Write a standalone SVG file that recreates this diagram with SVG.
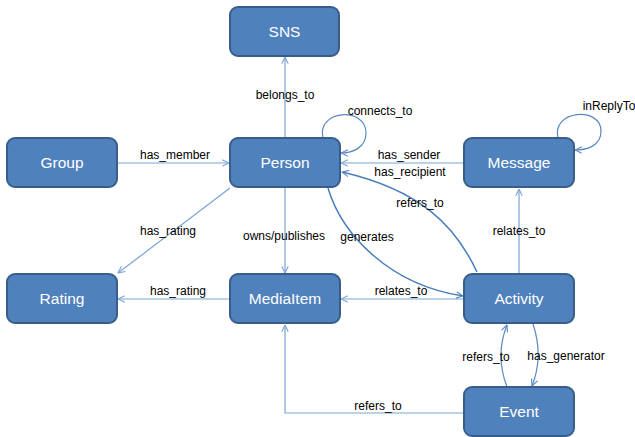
<svg xmlns="http://www.w3.org/2000/svg" width="635" height="437" viewBox="0 0 635 437">
  <style>
    .box { fill: #4F81BD; stroke: #385D8A; stroke-width: 2; }
    .name { font-family: "Liberation Sans", Arial, sans-serif; font-size: 15.5px; fill: #FFFFFF; text-anchor: middle; }
    .lbl { font-family: "Liberation Sans", Arial, sans-serif; font-size: 12px; fill: #000000; text-anchor: middle; }
    .thin { fill: none; stroke: #7BA3D6; stroke-width: 1.2; marker-end: url(#arrLight); }
    .curve { fill: none; stroke: #4A7EBB; stroke-width: 1.5; marker-end: url(#arrDark); }
    .loop { fill: none; stroke: #5A88C2; stroke-width: 1.2; marker-end: url(#arrDark); }
  </style>
  <defs>
    <marker id="arrLight" viewBox="0 0 10 10" refX="9.5" refY="5" markerWidth="8" markerHeight="8" markerUnits="userSpaceOnUse" orient="auto">
      <path d="M1,1 L9.5,5 L1,9" fill="none" stroke="#7BA3D6" stroke-width="1.4"/>
    </marker>
    <marker id="arrDark" viewBox="0 0 10 10" refX="9.5" refY="5" markerWidth="8" markerHeight="8" markerUnits="userSpaceOnUse" orient="auto">
      <path d="M1,1 L9.5,5 L1,9" fill="none" stroke="#5A88C2" stroke-width="1.4"/>
    </marker>
  </defs>

  <rect width="635" height="437" fill="#FFFFFF"/>

  <g id="connectors">
    <!-- belongs_to -->
    <line class="thin" x1="285" y1="138" x2="285" y2="57"/>
    <!-- owns/publishes -->
    <line class="thin" x1="285" y1="188" x2="285" y2="273"/>
    <!-- has_member -->
    <line class="thin" x1="117" y1="163" x2="229" y2="163"/>
    <!-- has_sender / has_recipient -->
    <line class="thin" x1="464" y1="163" x2="341" y2="163"/>
    <!-- has_rating (Person to Rating) -->
    <line class="thin" x1="230" y1="188" x2="118" y2="273"/>
    <!-- has_rating (MediaItem to Rating) -->
    <line class="thin" x1="230" y1="299" x2="118" y2="299"/>
    <!-- relates_to (Activity to MediaItem) -->
    <line class="thin" x1="464" y1="299" x2="341" y2="299"/>
    <!-- relates_to (Activity to Message) -->
    <line class="thin" x1="519" y1="274" x2="519" y2="189"/>
    <!-- refers_to (Event to MediaItem) -->
    <polyline class="thin" points="464,413 285,413 285,325"/>
    <!-- connects_to self loop -->
    <path class="loop" d="M323,138 C316,110 366,106 366,133 C366,148 352,153 341,153"/>
    <!-- inReplyTo self loop -->
    <path class="loop" d="M558,138 C551,110 601,106 601,131 C601,146 587,150 575,150"/>
    <!-- generates -->
    <path class="curve" d="M328,188 C342,235 390,285 463,296"/>
    <!-- refers_to (Activity to Person) -->
    <path class="curve" d="M477,272 C455,225 420,190 342,172"/>
    <!-- refers_to (Event to Activity) -->
    <path class="thin" style="stroke:#5A88C2;marker-end:url(#arrDark)" d="M507,387 C499,366 499,345 507,325"/>
    <!-- has_generator -->
    <path class="thin" style="stroke:#5A88C2;marker-end:url(#arrDark)" d="M533,324 C540,345 540,366 532,386"/>
  </g>

  <g id="edge-labels">
    <text class="lbl" x="285" y="99">belongs_to</text>
    <text class="lbl" x="380" y="115">connects_to</text>
    <text class="lbl" x="609" y="110">inReplyTo</text>
    <text class="lbl" x="175" y="159">has_member</text>
    <text class="lbl" x="409" y="159">has_sender</text>
    <text class="lbl" x="410" y="176">has_recipient</text>
    <text class="lbl" x="420" y="207">refers_to</text>
    <text class="lbl" x="168" y="235">has_rating</text>
    <text class="lbl" x="284" y="240">owns/publishes</text>
    <text class="lbl" x="367" y="241">generates</text>
    <text class="lbl" x="519" y="235">relates_to</text>
    <text class="lbl" x="178" y="295">has_rating</text>
    <text class="lbl" x="401" y="295">relates_to</text>
    <text class="lbl" x="486" y="361">refers_to</text>
    <text class="lbl" x="566" y="360">has_generator</text>
    <text class="lbl" x="378" y="410">refers_to</text>
  </g>

  <g id="node-sns">
    <rect class="box" x="230" y="7" width="109" height="49" rx="8"/>
    <text class="name" x="284.5" y="37">SNS</text>
  </g>
  <g id="node-group">
    <rect class="box" x="7" y="138" width="110" height="49" rx="8"/>
    <text class="name" x="62" y="168">Group</text>
  </g>
  <g id="node-person">
    <rect class="box" x="230" y="138" width="110" height="49" rx="8"/>
    <text class="name" x="285" y="168">Person</text>
  </g>
  <g id="node-message">
    <rect class="box" x="464" y="138" width="110" height="49" rx="8"/>
    <text class="name" x="519" y="168">Message</text>
  </g>
  <g id="node-rating">
    <rect class="box" x="7" y="274" width="110" height="49" rx="8"/>
    <text class="name" x="62" y="304">Rating</text>
  </g>
  <g id="node-mediaitem">
    <rect class="box" x="230" y="274" width="110" height="49" rx="8"/>
    <text class="name" x="285" y="304">MediaItem</text>
  </g>
  <g id="node-activity">
    <rect class="box" x="464" y="274" width="110" height="49" rx="8"/>
    <text class="name" x="519" y="304">Activity</text>
  </g>
  <g id="node-event">
    <rect class="box" x="464" y="387" width="110" height="49" rx="8"/>
    <text class="name" x="519" y="417">Event</text>
  </g>
</svg>
